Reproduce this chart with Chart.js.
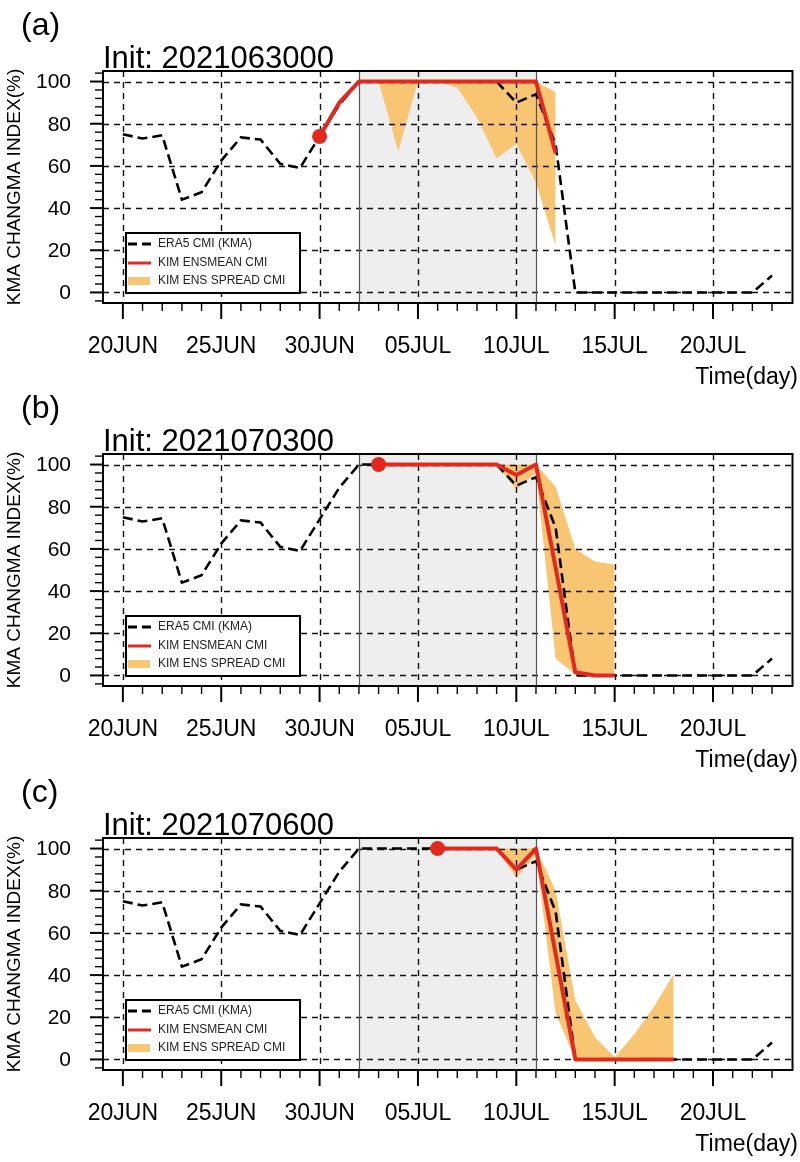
<!DOCTYPE html>
<html lang="en">
<head>
<meta charset="UTF-8">
<title>KMA Changma Index</title>
<script src="https://cdn.jsdelivr.net/npm/chart.js@4.4.0/dist/chart.umd.min.js"></script>
<style>
    html, body { margin: 0; padding: 0; background: #fff; }
    body { width: 800px; height: 1162px; position: relative; overflow: hidden; }
    canvas { position: absolute; left: 0; }
</style>
</head>
<body>
<canvas id="panelA" width="800" height="395" style="top:0px"></canvas>
<canvas id="panelB" width="800" height="395" style="top:383px"></canvas>
<canvas id="panelC" width="800" height="395" style="top:767px"></canvas>
<script>
    // x = days since 20JUN
    var dates = ['20JUN', '21JUN', '22JUN', '23JUN', '24JUN', '25JUN', '26JUN', '27JUN', '28JUN', '29JUN', '30JUN',
        '01JUL', '02JUL', '03JUL', '04JUL', '05JUL', '06JUL', '07JUL', '08JUL', '09JUL', '10JUL', '11JUL',
        '12JUL', '13JUL', '14JUL', '15JUL', '16JUL', '17JUL', '18JUL', '19JUL', '20JUL', '21JUL', '22JUL', '23JUL'];
    var era5 = [75, 73, 74.5, 44, 47.5, 62.5, 73.5, 72.5, 61, 59, 74, 89,
        100, 100, 100, 100, 100, 100, 100, 100, 90, 94, 70,
        0, 0, 0, 0, 0, 0, 0, 0, 0, 0, 8];

    var xTickDays = [0, 5, 10, 15, 20, 25, 30];
    var xTickLabels = ['20JUN', '25JUN', '30JUN', '05JUL', '10JUL', '15JUL', '20JUL'];
    var yTicks = [0, 20, 40, 60, 80, 100];
    var shadeFrom = 12, shadeTo = 21;   // 02JUL .. 11JUL

    // (a) init 2021063000, starts 30JUN
    var startA = 10;
    var meanA = [74, 90, 100, 100, 100, 100, 100, 100, 100, 100, 100, 100, 66];
    var upperA = [74, 90, 100, 100, 100, 100, 100, 100, 100, 100, 100, 100, 95];
    var lowerA = [74, 90, 100, 100, 67, 100, 100, 97, 83, 63.5, 70.5, 52, 22];

    // (b) init 2021070300, starts 03JUL
    var startB = 13;
    var meanB = [100, 100, 100, 100, 100, 100, 100, 95, 100, 51, 1.5, 0, 0];
    var upperB = [100, 100, 100, 100, 100, 100, 100, 100, 100, 89.5, 60, 54, 52.5];
    var lowerB = [100, 100, 100, 100, 100, 100, 100, 88, 96, 8, 0.5, 0, 0];

    // (c) init 2021070600, starts 06JUL
    var startC = 16;
    var meanC = [100, 100, 100, 100, 90, 100, 50, 0, 0, 0, 0, 0, 0];
    var upperC = [100, 100, 100, 100, 100, 100, 80, 28, 10.5, 1, 12, 25, 40.5];
    var lowerC = [100, 100, 100, 100, 86, 97, 22, 0, 0, 0, 0, 0, 0];

    var RED = 'rgb(228,40,30)';
    var ORANGE = 'rgb(248,198,114)';
    var FONT = '"Liberation Sans", Arial, Helvetica, sans-serif';

    function pts(start, vals) {
        return vals.map(function (v, i) { return { x: start + i, y: v }; });
    }

    var panelDecor = {
        id: 'panelDecor',
        beforeDatasetsDraw: function (chart) {
            var a = chart.chartArea, x = chart.scales.x, ctx = chart.ctx;
            var x0 = x.getPixelForValue(shadeFrom), x1 = x.getPixelForValue(shadeTo);
            ctx.save();
            ctx.fillStyle = 'rgb(238,238,238)';
            ctx.fillRect(x0, a.top, x1 - x0, a.bottom - a.top);
            ctx.restore();
        },
        afterDatasetDraw: function (chart, args) {
            if (args.index !== 2) return;   // right after the spread fill
            var a = chart.chartArea, x = chart.scales.x, y = chart.scales.y, ctx = chart.ctx;
            ctx.save();
            ctx.strokeStyle = '#111';
            ctx.lineWidth = 1.4;
            ctx.setLineDash([6, 5]);
            yTicks.forEach(function (v) {
                var py = Math.round(y.getPixelForValue(v)) + 0.5;
                ctx.beginPath(); ctx.moveTo(a.left, py); ctx.lineTo(a.right, py); ctx.stroke();
            });
            xTickDays.forEach(function (v) {
                var px = Math.round(x.getPixelForValue(v)) + 0.5;
                ctx.beginPath(); ctx.moveTo(px, a.top); ctx.lineTo(px, a.bottom); ctx.stroke();
            });
            ctx.setLineDash([]);
            ctx.strokeStyle = '#555';
            ctx.lineWidth = 1.2;
            [shadeFrom, shadeTo].forEach(function (v) {
                var px = Math.round(x.getPixelForValue(v)) + 0.5;
                ctx.beginPath(); ctx.moveTo(px, a.top); ctx.lineTo(px, a.bottom); ctx.stroke();
            });
            ctx.restore();
        },
        afterDraw: function (chart, args, opts) {
            var a = chart.chartArea, x = chart.scales.x, y = chart.scales.y, ctx = chart.ctx;
            ctx.save();
            // frame
            ctx.strokeStyle = '#000';
            ctx.lineWidth = 2;
            ctx.strokeRect(a.left, a.top, a.right - a.left, a.bottom - a.top);

            // x ticks (daily minor, 5-day major)
            for (var d = 0; d <= 33; d++) {
                var px = x.getPixelForValue(d);
                var major = xTickDays.indexOf(d) >= 0;
                ctx.lineWidth = major ? 2 : 1.4;
                ctx.beginPath(); ctx.moveTo(px, a.bottom); ctx.lineTo(px, a.bottom + (major ? 16 : 8)); ctx.stroke();
            }
            // y ticks (minor every 4)
            for (var v = -4; v <= 104; v += 4) {
                var py = y.getPixelForValue(v);
                var maj = v % 20 === 0;
                ctx.lineWidth = maj ? 2 : 1.4;
                ctx.beginPath(); ctx.moveTo(a.left, py); ctx.lineTo(a.left - (maj ? 13 : 8), py); ctx.stroke();
            }

            // tick labels
            ctx.fillStyle = '#000';
            ctx.font = '23px ' + FONT;
            ctx.textAlign = 'center';
            ctx.textBaseline = 'alphabetic';
            xTickDays.forEach(function (d, i) {
                ctx.fillText(xTickLabels[i], x.getPixelForValue(d), 353);
            });
            ctx.font = '21px ' + FONT;
            ctx.textAlign = 'right';
            ctx.textBaseline = 'middle';
            yTicks.forEach(function (v) {
                ctx.fillText(String(v), 71, y.getPixelForValue(v) + 1);
            });

            // axis titles
            ctx.textBaseline = 'alphabetic';
            ctx.font = '23px ' + FONT;
            ctx.textAlign = 'right';
            ctx.fillText('Time(day)', 798, 384);
            ctx.save();
            ctx.translate(20, (a.top + a.bottom) / 2);
            ctx.rotate(-Math.PI / 2);
            ctx.textAlign = 'center';
            ctx.font = '19px ' + FONT;
            ctx.fillText('KMA CHANGMA INDEX(%)', 0, 0);
            ctx.restore();

            // panel letter and title
            ctx.textAlign = 'left';
            ctx.font = '32px ' + FONT;
            ctx.fillText(opts.letter, 21, 35);
            ctx.font = '31px ' + FONT;
            ctx.fillText(opts.init, a.left, 68);

            // legend
            var lx = a.left + 23, ly = a.top + 162, lw = 174, lh = 60;
            ctx.fillStyle = '#fff';
            ctx.fillRect(lx, ly, lw, lh);
            ctx.lineWidth = 2;
            ctx.strokeStyle = '#000';
            ctx.strokeRect(lx, ly, lw, lh);
            var rows = [ly + 11, ly + 30, ly + 48];
            ctx.lineWidth = 3;
            ctx.setLineDash([9, 5]);
            ctx.beginPath(); ctx.moveTo(lx + 2, rows[0]); ctx.lineTo(lx + 26, rows[0]); ctx.stroke();
            ctx.setLineDash([]);
            ctx.strokeStyle = RED;
            ctx.beginPath(); ctx.moveTo(lx + 2, rows[1]); ctx.lineTo(lx + 25, rows[1]); ctx.stroke();
            ctx.fillStyle = ORANGE;
            ctx.fillRect(lx + 2, rows[2] - 4, 22, 8);
            ctx.fillStyle = '#222';
            ctx.font = '12px ' + FONT;
            ctx.textBaseline = 'middle';
            ctx.fillText('ERA5 CMI (KMA)', lx + 32, rows[0]);
            ctx.fillText('KIM ENSMEAN CMI', lx + 32, rows[1]);
            ctx.fillText('KIM ENS SPREAD CMI', lx + 32, rows[2]);
            ctx.restore();
        }
    };

    function buildPanel(id, letter, init, start, mean, upper, lower) {
        return new Chart(document.getElementById(id), {
            type: 'line',
            data: {
                datasets: [{
                    label: 'KIM ENSMEAN CMI',
                    data: pts(start, mean),
                    borderColor: RED,
                    borderWidth: 4,
                    borderJoinStyle: 'round',
                    pointRadius: function (c) { return c.dataIndex === 0 ? 7.5 : 0; },
                    pointBackgroundColor: RED,
                    pointBorderColor: RED,
                    pointBorderWidth: 0,
                    fill: false,
                    tension: 0,
                    order: 0
                }, {
                    label: 'ERA5 CMI (KMA)',
                    data: pts(0, era5),
                    borderColor: '#000',
                    borderWidth: 2.6,
                    borderDash: [10, 5],
                    pointRadius: 0,
                    fill: false,
                    tension: 0,
                    order: 1
                }, {
                    label: 'KIM ENS SPREAD CMI',
                    data: pts(start, upper),
                    borderColor: 'rgba(0,0,0,0)',
                    borderWidth: 0,
                    backgroundColor: ORANGE,
                    pointRadius: 0,
                    fill: '+1',
                    tension: 0,
                    order: 2
                }, {
                    label: 'spread low',
                    data: pts(start, lower),
                    borderColor: 'rgba(0,0,0,0)',
                    borderWidth: 0,
                    pointRadius: 0,
                    fill: false,
                    tension: 0,
                    order: 3
                }]
            },
            options: {
                responsive: false,
                animation: false,
                devicePixelRatio: 1,
                events: [],
                layout: { padding: { top: 71, right: 3, left: 0, bottom: 0 } },
                plugins: {
                    legend: { display: false },
                    tooltip: { enabled: false },
                    panelDecor: { letter: letter, init: init }
                },
                scales: {
                    x: {
                        type: 'linear', min: -1.01, max: 34.04,
                        grid: { display: false, drawTicks: false },
                        border: { display: false },
                        ticks: { display: false },
                        afterBuildTicks: function (s) { s.ticks = xTickDays.map(function (v) { return { value: v }; }); },
                        afterFit: function (s) { s.height = 92; }
                    },
                    y: {
                        min: -5, max: 105,
                        grid: { display: false, drawTicks: false },
                        border: { display: false },
                        ticks: { display: false, stepSize: 20 },
                        afterFit: function (s) { s.width = 103; }
                    }
                }
            },
            plugins: [panelDecor]
        });
    }

    buildPanel('panelA', '(a)', 'Init: 2021063000', startA, meanA, upperA, lowerA);
    buildPanel('panelB', '(b)', 'Init: 2021070300', startB, meanB, upperB, lowerB);
    buildPanel('panelC', '(c)', 'Init: 2021070600', startC, meanC, upperC, lowerC);
</script>
</body>
</html>
